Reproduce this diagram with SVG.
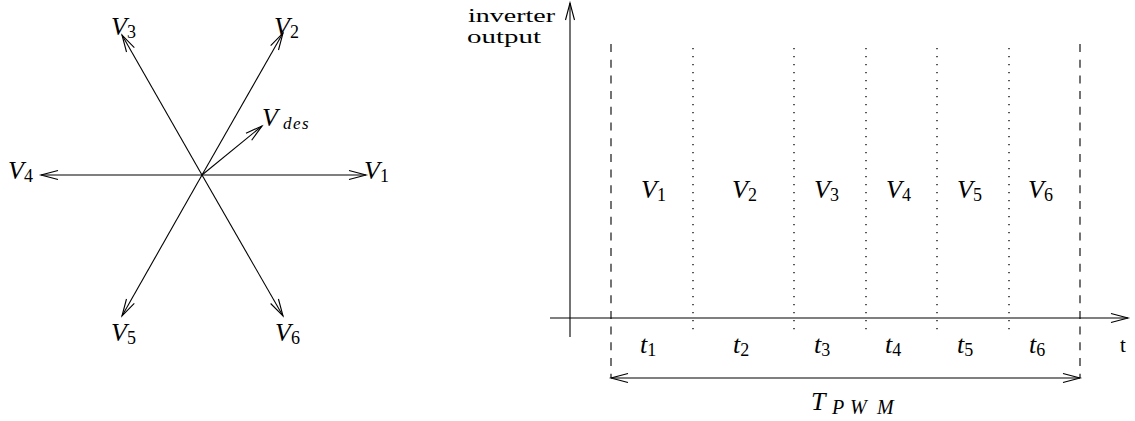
<svg xmlns="http://www.w3.org/2000/svg" width="1135" height="421" viewBox="0 0 1135 421">
<style>
  .ln{stroke:#000;stroke-width:1.1;fill:none}
  .ar{marker-end:url(#ah)}
  .dash{stroke:#000;stroke-width:1.1;fill:none;stroke-dasharray:8 7.7}
  .dot{stroke:#000;stroke-width:1.3;fill:none;stroke-dasharray:1.3 6.7}
  .m{font-family:"Liberation Serif","Times New Roman",serif;font-style:italic;font-size:26px;fill:#000}
  .sub{font-style:normal;font-size:18px}
  .isub{font-style:italic;font-size:20px}
  .rm{font-family:"Liberation Serif","Times New Roman",serif;font-size:18px;fill:#000}
</style>
<defs>
  <marker id="ah" markerUnits="userSpaceOnUse" markerWidth="24" markerHeight="14" viewBox="-20 -7 24 14" refX="0" refY="0" orient="auto-start-reverse">
    <path d="M-17,-4.5 L0,0 L-17,4.5" fill="none" stroke="#000" stroke-width="1.1"/>
  </marker>
</defs>
<rect width="1135" height="421" fill="#fff"/>

<g id="connectors">
  <line class="ln ar" x1="202" y1="175" x2="366" y2="175"/>
  <line class="ln ar" x1="202" y1="175" x2="41" y2="175"/>
  <line class="ln ar" x1="202" y1="175" x2="283" y2="33"/>
  <line class="ln ar" x1="202" y1="175" x2="122" y2="35"/>
  <line class="ln ar" x1="202" y1="175" x2="122" y2="316"/>
  <line class="ln ar" x1="202" y1="175" x2="283" y2="316"/>
  <line class="ln ar" x1="202" y1="175" x2="262" y2="126"/>
  <line class="ln ar" x1="570" y1="337" x2="570" y2="3"/>
  <line class="ln ar" x1="550" y1="318" x2="1128" y2="318"/>
  <line class="dash" x1="611" y1="44" x2="611" y2="378"/>
  <line class="dash" x1="1080" y1="44" x2="1080" y2="378"/>
  <line class="dot" x1="693" y1="48" x2="693" y2="336"/>
  <line class="dot" x1="794" y1="48" x2="794" y2="336"/>
  <line class="dot" x1="866" y1="48" x2="866" y2="336"/>
  <line class="dot" x1="937" y1="48" x2="937" y2="336"/>
  <line class="dot" x1="1009" y1="48" x2="1009" y2="336"/>
  <line class="ln" x1="611" y1="378" x2="1080" y2="378" marker-start="url(#ah)" marker-end="url(#ah)"/>
</g>

<g id="star-labels">
  <text class="m" x="364" y="179">V<tspan class="sub" dy="3">1</tspan></text>
  <text class="m" x="274" y="35">V<tspan class="sub" dy="3">2</tspan></text>
  <text class="m" x="111" y="35">V<tspan class="sub" dy="3">3</tspan></text>
  <text class="m" x="8" y="179">V<tspan class="sub" dy="3">4</tspan></text>
  <text class="m" x="111" y="341">V<tspan class="sub" dy="3">5</tspan></text>
  <text class="m" x="275" y="341">V<tspan class="sub" dy="3">6</tspan></text>
  <text class="m" x="262" y="126">V<tspan class="isub" x="283 293 302" dy="3" style="font-size:17px">des</tspan></text>
</g>

<g id="axis-labels">
  <text class="rm" x="468" y="22" textLength="87" lengthAdjust="spacingAndGlyphs">inverter</text>
  <text class="rm" x="467" y="43" textLength="74" lengthAdjust="spacingAndGlyphs">output</text>
  <text class="rm" x="1120" y="352" style="font-size:21px">t</text>
</g>

<g id="vector-labels">
  <text class="m" x="641" y="198">V<tspan class="sub" dy="3">1</tspan></text>
  <text class="m" x="732" y="198">V<tspan class="sub" dy="3">2</tspan></text>
  <text class="m" x="814" y="198">V<tspan class="sub" dy="3">3</tspan></text>
  <text class="m" x="886" y="198">V<tspan class="sub" dy="3">4</tspan></text>
  <text class="m" x="957" y="198">V<tspan class="sub" dy="3">5</tspan></text>
  <text class="m" x="1028" y="198">V<tspan class="sub" dy="3">6</tspan></text>
</g>

<g id="time-labels">
  <text class="m" x="640" y="353">t<tspan class="sub" dy="3">1</tspan></text>
  <text class="m" x="733" y="353">t<tspan class="sub" dy="3">2</tspan></text>
  <text class="m" x="814" y="353">t<tspan class="sub" dy="3">3</tspan></text>
  <text class="m" x="885" y="353">t<tspan class="sub" dy="3">4</tspan></text>
  <text class="m" x="957" y="353">t<tspan class="sub" dy="3">5</tspan></text>
  <text class="m" x="1029" y="353">t<tspan class="sub" dy="3">6</tspan></text>
  <text class="m" x="811" y="410">T<tspan class="isub" x="832 850 877" dy="4">PWM</tspan></text>
</g>
</svg>
